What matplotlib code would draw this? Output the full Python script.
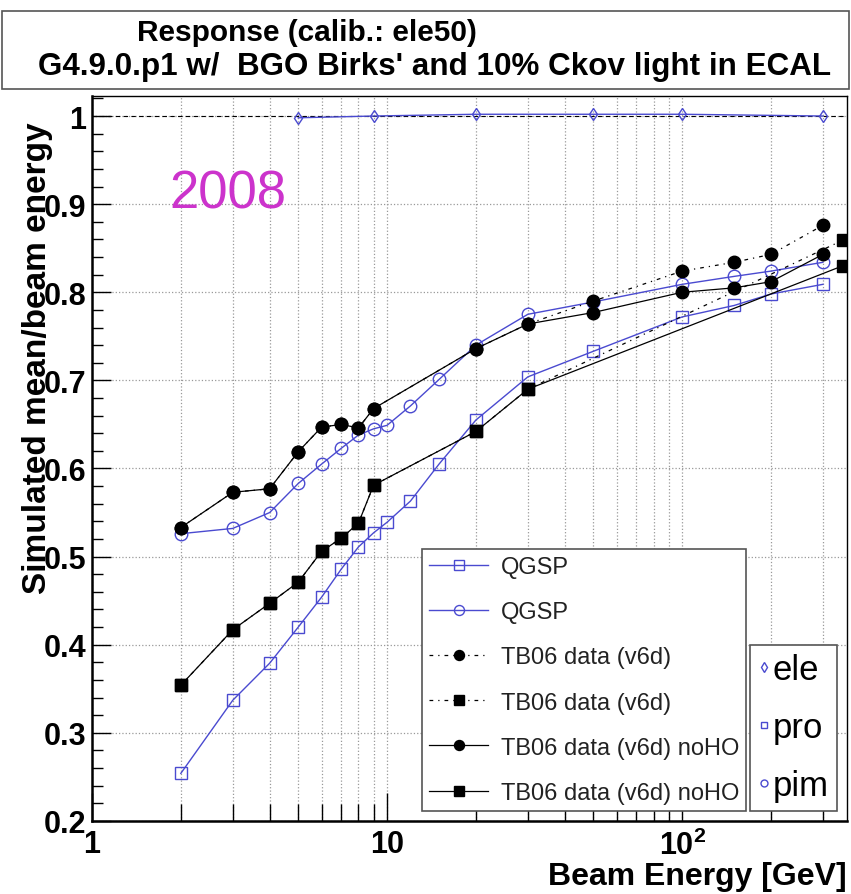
import numpy as np
import matplotlib
matplotlib.use('Agg')
import matplotlib.pyplot as plt
from matplotlib.lines import Line2D
from matplotlib.patches import Rectangle
from matplotlib.ticker import FixedLocator, FixedFormatter, NullFormatter

# Data
e_ele = [5, 9, 20, 50, 100, 300]
r_ele = [0.998, 1.000, 1.002, 1.002, 1.002, 1.000]

e_qgsp = [2, 3, 4, 5, 6, 7, 8, 9, 10, 12, 15, 20, 30, 50, 100, 150, 200, 300]
r_pro_qgsp = [0.254, 0.337, 0.379, 0.420, 0.454, 0.486, 0.511, 0.527, 0.539,
              0.563, 0.605, 0.655, 0.704, 0.733, 0.772, 0.785, 0.798, 0.809]
r_pim_qgsp = [0.526, 0.532, 0.550, 0.583, 0.605, 0.623, 0.638, 0.645, 0.649,
              0.671, 0.701, 0.740, 0.775, 0.789, 0.809, 0.818, 0.824, 0.834]

e_pim_data = [2, 3, 4, 5, 6, 7, 8, 9, 20, 30, 50, 100, 150, 200, 300]
r_pim_data = [0.533, 0.573, 0.577, 0.619, 0.647, 0.650, 0.646, 0.668, 0.736,
              0.764, 0.790, 0.824, 0.834, 0.843, 0.876]
r_pim_noho = [0.533, 0.573, 0.577, 0.619, 0.647, 0.650, 0.646, 0.668, 0.736,
              0.764, 0.777, 0.800, 0.805, 0.812, 0.843]

e_pro_data = [2, 3, 4, 5, 6, 7, 8, 9, 20, 30, 350]
r_pro_data = [0.354, 0.417, 0.447, 0.471, 0.506, 0.521, 0.538, 0.581, 0.642,
              0.690, 0.859]
r_pro_noho = [0.354, 0.417, 0.447, 0.471, 0.506, 0.521, 0.538, 0.581, 0.642,
              0.690, 0.830]

# %% Plot
plt.rcParams['font.family'] = ['Liberation Sans', 'DejaVu Sans']
plt.rcParams['mathtext.fontset'] = 'custom'
plt.rcParams['mathtext.rm'] = 'Liberation Sans'
plt.rcParams['mathtext.bf'] = 'Liberation Sans:bold'

blue = '#4a4ad0'
fig = plt.figure(figsize=(8.51, 8.95), dpi=100)
ax = fig.add_axes([0.1081, 0.0816, 0.8872, 0.81])

ax.axhline(1.0, color='k', lw=0.8, ls=(0, (4, 3)), zorder=1)

ax.plot(e_ele, r_ele, color=blue, lw=1.0, marker='d', ms=6, mfc='none',
        mew=1.0, zorder=3)
l_pro, = ax.plot(e_qgsp, r_pro_qgsp, color=blue, lw=1.0, marker='s', ms=9,
                 mfc='none', mew=1.0, zorder=3)
l_pim, = ax.plot(e_qgsp, r_pim_qgsp, color=blue, lw=1.0, marker='o', ms=9,
                 mfc='none', mew=1.0, zorder=3)
d_pim, = ax.plot(e_pim_data, r_pim_data, color='k', lw=0.9,
                 ls=(0, (3, 4, 1, 4)), marker='o', ms=9, zorder=4)
d_pro, = ax.plot(e_pro_data, r_pro_data, color='k', lw=0.9,
                 ls=(0, (3, 4, 1, 4)), marker='s', ms=9, zorder=4)
n_pim, = ax.plot(e_pim_data, r_pim_noho, color='k', lw=0.9, marker='o',
                 ms=9, zorder=4)
n_pro, = ax.plot(e_pro_data, r_pro_noho, color='k', lw=0.9, marker='s',
                 ms=9, zorder=4)

ax.set_xscale('log')
ax.set_xlim(1, 362)
ax.set_ylim(0.2, 1.0227)

minor_x = [2, 3, 4, 5, 6, 7, 8, 9, 20, 30, 40, 50, 60, 70, 80, 90, 200, 300]
ax.xaxis.set_major_locator(FixedLocator([1, 10, 100]))
ax.xaxis.set_major_formatter(FixedFormatter(['1', '10', r'$\mathbf{10^{2}}$']))
ax.xaxis.set_minor_locator(FixedLocator(minor_x))
ax.xaxis.set_minor_formatter(NullFormatter())
ax.yaxis.set_major_locator(FixedLocator(np.arange(0.2, 1.01, 0.1)))
ax.yaxis.set_major_formatter(FixedFormatter(['0.2', '0.3', '0.4', '0.5', '0.6',
                                             '0.7', '0.8', '0.9', '1']))
ax.yaxis.set_minor_locator(FixedLocator(np.arange(0.2, 1.021, 0.02)))

ax.tick_params(which='both', direction='in', top=False, right=False,
               labelsize=22, width=1.0)
ax.tick_params(axis='y', which='major', length=14, pad=4)
ax.tick_params(axis='y', which='minor', length=8)
ax.tick_params(axis='x', which='major', length=20, pad=6)
ax.tick_params(axis='x', which='minor', length=12)
for lab in ax.get_xticklabels() + ax.get_yticklabels():
    lab.set_fontweight('bold')

ax.grid(which='major', axis='y', color='#999999', ls=':', lw=0.9)
ax.grid(which='both', axis='x', color='#999999', ls=':', lw=0.9)
ax.set_axisbelow(True)
for s in ['left', 'bottom']:
    ax.spines[s].set_linewidth(1.8)
for s in ['right', 'top']:
    ax.spines[s].set_linewidth(1.0)

ax.set_xlabel('Beam Energy [GeV]', fontsize=23, fontweight='bold',
              loc='right', labelpad=0)
ax.set_ylabel('Simulated mean/beam energy', fontsize=24, fontweight='bold',
              loc='top')
ax.yaxis.set_label_coords(-0.052, 0.965)

ax.text(0.103, 0.865, '2008', transform=ax.transAxes, fontsize=38,
        color='#cc33cc', va='center', ha='left')

leg1 = ax.legend([l_pro, l_pim, d_pim, d_pro, n_pim, n_pro],
                 ['QGSP', 'QGSP', 'TB06 data (v6d)', 'TB06 data (v6d)',
                  'TB06 data (v6d) noHO', 'TB06 data (v6d) noHO'],
                 loc='lower left', bbox_to_anchor=(0.437, 0.0138),
                 borderaxespad=0, fontsize=17, labelspacing=0.98,
                 handlelength=2.5, handletextpad=0.55, markerscale=0.8,
                 fancybox=False, framealpha=1, edgecolor='#555555',
                 borderpad=0.3)
leg1.get_frame().set_linewidth(1.2)
for t in leg1.get_texts():
    t.set_color('#222222')
ax.add_artist(leg1)

h_ele = Line2D([], [], color=blue, ls='none', marker='d', ms=5, mfc='none')
h_pro = Line2D([], [], color=blue, ls='none', marker='s', ms=5, mfc='none')
h_pim = Line2D([], [], color=blue, ls='none', marker='o', ms=5, mfc='none')
leg2 = ax.legend([h_ele, h_pro, h_pim], ['ele', 'pro', 'pim'],
                 loc='lower right', bbox_to_anchor=(0.987, 0.0138),
                 borderaxespad=0, fontsize=25, labelspacing=0.72,
                 handlelength=0.3, handletextpad=0.1, fancybox=False,
                 framealpha=1, edgecolor='#555555', borderpad=0.25)
leg2.get_frame().set_linewidth(1.2)

# title box
fig.patches.append(Rectangle((0.002, 0.8994), 0.996, 0.0872,
                             transform=fig.transFigure, fill=False,
                             edgecolor='#555555', lw=1.2))
fig.text(0.361, 0.963, 'Response (calib.: ele50)', fontsize=21.5,
         fontweight='bold', ha='center', va='center')
fig.text(0.511, 0.925, "G4.9.0.p1 w/  BGO Birks' and 10% Ckov light in ECAL",
         fontsize=22.6, fontweight='bold', ha='center', va='center')

plt.savefig('out.png', dpi=100)
